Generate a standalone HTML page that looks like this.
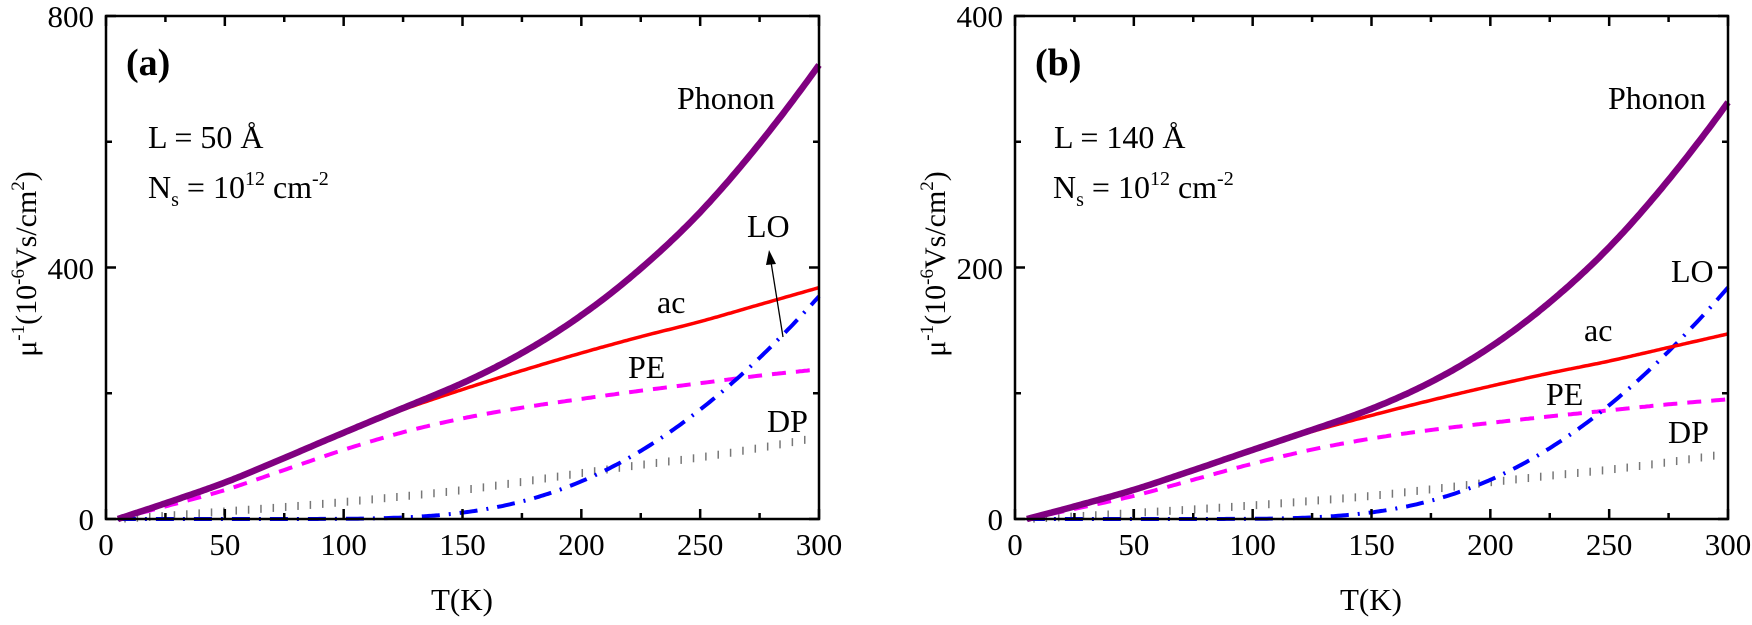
<!DOCTYPE html>
<html><head><meta charset="utf-8">
<style>
html,body{margin:0;padding:0;background:#fff;}
svg, svg text{font-family:"Liberation Serif","Times New Roman",serif;}
</style></head>
<body>
<svg id="s" width="1752" height="620" viewBox="0 0 1752 620" xmlns="http://www.w3.org/2000/svg" font-family="Liberation Serif, serif">
<g font-size="31" text-anchor="end" font-family="Liberation Serif, serif">
<text x="94" y="27">800</text><text x="94" y="279">400</text><text x="94" y="530">0</text>
<text x="1003" y="27">400</text><text x="1003" y="279">200</text><text x="1003" y="530">0</text>
</g>
<g font-size="31" text-anchor="middle" id="xl" font-family="Liberation Serif, serif"></g>
<g font-family="Liberation Serif, serif">
<text x="462" y="610" font-size="31" text-anchor="middle">T(K)</text>
<text x="1371" y="610" font-size="31" text-anchor="middle">T(K)</text>
<text transform="translate(36,264) rotate(-90)" font-size="30" text-anchor="middle">μ<tspan font-size="19" dy="-12">-1</tspan><tspan dy="12">(10</tspan><tspan font-size="19" dy="-12">-6</tspan><tspan dy="12">Vs/cm</tspan><tspan font-size="19" dy="-12">2</tspan><tspan dy="12">)</tspan></text>
<text transform="translate(945,264) rotate(-90)" font-size="30" text-anchor="middle">μ<tspan font-size="19" dy="-12">-1</tspan><tspan dy="12">(10</tspan><tspan font-size="19" dy="-12">-6</tspan><tspan dy="12">Vs/cm</tspan><tspan font-size="19" dy="-12">2</tspan><tspan dy="12">)</tspan></text>
</g>
<g id="curves"></g>
<g id="axes" stroke="#000" stroke-width="2.5" fill="none"></g>
<g font-size="32" font-family="Liberation Serif, serif">
<text x="126" y="75" font-weight="bold" font-size="38">(a)</text>
<text x="148" y="148">L = 50 Å</text>
<text x="148" y="198">N<tspan font-size="20" dy="8">s</tspan><tspan dy="-8"> = 10</tspan><tspan font-size="20" dy="-13">12</tspan><tspan dy="13"> cm</tspan><tspan font-size="20" dy="-13">-2</tspan></text>
<text x="677" y="109">Phonon</text>
<text x="747" y="237">LO</text>
<text x="657" y="313">ac</text>
<text x="628" y="378">PE</text>
<text x="767" y="432">DP</text>
<text x="1035" y="75" font-weight="bold" font-size="38">(b)</text>
<text x="1054" y="148">L = 140 Å</text>
<text x="1053" y="198">N<tspan font-size="20" dy="8">s</tspan><tspan dy="-8"> = 10</tspan><tspan font-size="20" dy="-13">12</tspan><tspan dy="13"> cm</tspan><tspan font-size="20" dy="-13">-2</tspan></text>
<text x="1608" y="109">Phonon</text>
<text x="1671" y="282">LO</text>
<text x="1584" y="341">ac</text>
<text x="1546" y="405">PE</text>
<text x="1668" y="443">DP</text>
</g>
<line x1="783" y1="337" x2="771" y2="262" stroke="#000" stroke-width="1.3"/>
<polygon points="769,250 766,265 776,264" fill="#000"/>
</svg>
<script>
var NS="http://www.w3.org/2000/svg",svg=document.getElementById('s');
function el(p,t,a){var e=document.createElementNS(NS,t);for(var k in a)e.setAttribute(k,a[k]);p.appendChild(e);return e;}
var cv=document.getElementById('curves'),ax=document.getElementById('axes'),xl=document.getElementById('xl');
var Ts=[5,25,50,75,100,125,150,175,200,225,250,275,300];
var PE=[0,20,46,78,110,138,160,177,191,204,216,228,238], DP=[0,5,12,19,27,36,46,59,73,86,98,113,130];
function interp(arr,T){for(var i=0;i<Ts.length-1;i++){if(T<=Ts[i+1]){var t0=Ts[i],t1=Ts[i+1];
 var m=function(j){var a=Math.max(0,j-1),b=Math.min(Ts.length-1,j+1);return (arr[b]-arr[a])/(Ts[b]-Ts[a]);};
 var h=t1-t0,s=(T-t0)/h,s2=s*s,s3=s2*s;
 return (2*s3-3*s2+1)*arr[i]+(s3-2*s2+s)*h*m(i)+(-2*s3+3*s2)*arr[i+1]+(s3-s2)*h*m(i+1);}}return arr[arr.length-1];}
function LO(T){return 12370*Math.exp(-1066/T);}
function panel(x0,sc,loS,ymax){
 var W=713,top=16,bot=519;
 function X(T){return x0+T*W/300;} function Y(v){return bot-v*(bot-top)/ymax;}
 function path(f){var d="";for(var T=5;T<=300;T+=1){d+=(T==5?"M":"L")+X(T).toFixed(1)+","+Y(f(T)).toFixed(1);}return d;}
 var pe=function(T){return sc*interp(PE,T);},dp=function(T){return sc*interp(DP,T);},lo=function(T){return loS*LO(T);};
 for(var T=8;T<=298;T+=5.2){var y=Y(dp(T));el(cv,'line',{x1:X(T),x2:X(T),y1:y-4,y2:y+4,stroke:'#777','stroke-width':1.5});}
 el(cv,'path',{d:path(pe),stroke:'#ff00ff','stroke-width':4,fill:'none','stroke-dasharray':'14,10'});
 el(cv,'path',{d:path(lo),stroke:'#0000ff','stroke-width':4,fill:'none','stroke-dasharray':'18,9,2,9'});
 el(cv,'path',{d:path(function(T){return pe(T)+dp(T);}),stroke:'#ff0000','stroke-width':3.5,fill:'none'});
 el(cv,'path',{d:path(function(T){return pe(T)+dp(T)+lo(T);}),stroke:'#800080','stroke-width':6.5,fill:'none'});
 el(ax,'rect',{x:x0,y:top,width:W,height:bot-top});
 for(var i=0;i<=12;i++){var x=x0+i*W/12,L=(i%2==0)?10:6;
  el(ax,'line',{x1:x,x2:x,y1:bot,y2:bot-L});el(ax,'line',{x1:x,x2:x,y1:top,y2:top+L});
  if(i%2==0){var t=el(xl,'text',{x:x,y:555});t.textContent=String(i*25);}}
 for(var j=0;j<=4;j++){var y=bot-j*(bot-top)/4,L=(j%2==0)?10:6;
  el(ax,'line',{x1:x0,x2:x0+L,y1:y,y2:y});el(ax,'line',{x1:x0+W,x2:x0+W-L,y1:y,y2:y});}
}
panel(106,1,1,800);
panel(1015,0.4,0.52,400);
</script>
</body></html>
